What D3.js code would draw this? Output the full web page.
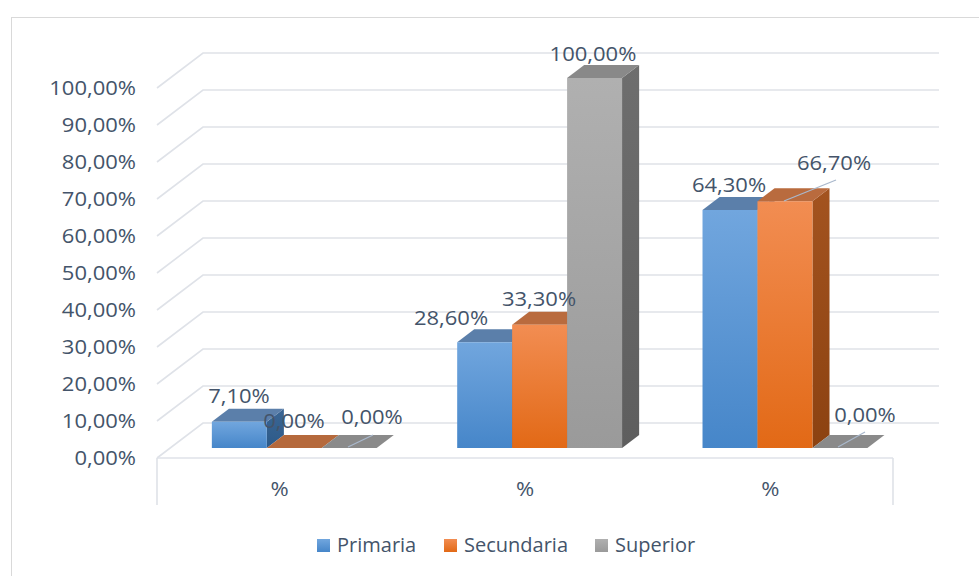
<!DOCTYPE html>
<html>
<head>
<meta charset="utf-8">
<script src="https://cdn.jsdelivr.net/npm/d3@7"></script>
<style>
  html, body { margin: 0; padding: 0; background: #ffffff; }
  svg { display: block; }
  text { font-family: "Open Sans", "Noto Sans", sans-serif; fill: #44546a; }
</style>
</head>
<body>
<svg id="chart" width="979" height="576"></svg>
<script>
// Chart data
const categories = ["%", "% ", "%  "];
const categoryLabels = ["%", "%", "%"];
const seriesNames = ["Primaria", "Secundaria", "Superior"];
const primaria = [7.1, 28.6, 64.3];
const secundaria = [0, 33.3, 66.7];
const superior = [0, 100, 0];
const yTicks = [0, 10, 20, 30, 40, 50, 60, 70, 80, 90, 100];

const seriesValues = [primaria, secundaria, superior];

const svg = d3.select("#chart");
const W = 979, H = 576;

// 3D layout: front floor edge, depth offsets
const floorLeft = 157, floorRight = 893;
const DX = 46, DY = 35;          // full depth offset of the back wall
const zFront = 10 / 35, zBack = 23 / 35; // depth span of the bars

const y = d3.scaleLinear().domain([0, 100]).range([458, 88]);
const x0 = d3.scaleBand().domain(categories).range([floorLeft, floorRight]);
const bw = x0.bandwidth();
const x1 = d3.scaleBand().domain(seriesNames).range([bw * 0.17, bw * 0.842]);

const proj = (px, v, z) => [px + z * DX, y(v) - z * DY];

const fmt = v => d3.format(".2f")(v).replace(".", ",") + "%";
const TEXT_SIZE = "20px", STRETCH = 1.1;

// place a text label at (tx, ty) with a slight horizontal stretch
function label(g, tx, ty, str, anchor, dy) {
  return g.append("text")
    .attr("transform", `translate(${tx},${ty}) scale(${STRETCH},1)`)
    .attr("text-anchor", anchor)
    .attr("dy", dy || null)
    .style("font-size", TEXT_SIZE)
    .text(str);
}

// outer chart frame
svg.append("rect")
  .attr("x", 11.5).attr("y", 17.5)
  .attr("width", W + 20).attr("height", H + 20)
  .attr("fill", "#ffffff").attr("stroke", "#d9d9d9").attr("stroke-width", 1);

// gradients
const defs = svg.append("defs");
function vGrad(id, top, bottom) {
  const g = defs.append("linearGradient").attr("id", id)
    .attr("x1", 0).attr("y1", 0).attr("x2", 0).attr("y2", 1);
  g.append("stop").attr("offset", "0%").attr("stop-color", top);
  g.append("stop").attr("offset", "100%").attr("stop-color", bottom);
}
const palette = [
  { front: ["#71a6de", "#4686c9"], top: "#5b7faa", side: ["#3b6694", "#2c5a89"], flat: "#5b7faa" },
  { front: ["#f28d52", "#e26916"], top: "#b96b3e", side: ["#a3531f", "#8c4211"], flat: "#b5693c" },
  { front: ["#b0b0b0", "#9a9a9a"], top: "#898989", side: ["#6e6e6e", "#5e5e5e"], flat: "#8a8a8a" }
];
palette.forEach((p, i) => {
  vGrad("front" + i, p.front[0], p.front[1]);
  vGrad("side" + i, p.side[0], p.side[1]);
});

// walls: side diagonals + back gridlines
const grid = svg.append("g").attr("stroke", "#dfe2e8").attr("stroke-width", 1.6).attr("fill", "none");
yTicks.forEach(v => {
  const a = proj(floorLeft, v, 0), b = proj(floorLeft, v, 1), c = proj(floorRight, v, 1);
  grid.append("path").attr("d", `M${a[0]},${a[1]}L${b[0]},${b[1]}L${c[0]},${c[1]}`);
});
// floor front edge and category axis box
grid.append("path").attr("d", `M${floorLeft},${y(0)}L${floorRight},${y(0)}`);
grid.append("path").attr("d", `M${floorLeft},${y(0)}L${floorLeft},${y(0) + 47}`);
grid.append("path").attr("d", `M${floorRight},${y(0)}L${floorRight},${y(0) + 47}`);

// value axis labels
const yAxisG = svg.append("g");
yTicks.forEach(d => label(yAxisG, 136, y(d), fmt(d), "end", "0.35em"));

// category labels
const xAxisG = svg.append("g");
categories.forEach((d, i) => label(xAxisG, x0(d) + bw / 2, 489, categoryLabels[i], "middle", "0.35em"));

// bars
const bars = svg.append("g");
const pts = arr => arr.map(p => p.join(",")).join(" ");
categories.forEach((cat, ci) => {
  seriesNames.forEach((s, si) => {
    const v = seriesValues[si][ci];
    const xl = x0(cat) + x1(s);
    const xr = xl + x1.bandwidth();
    const p = palette[si];
    const fl0 = proj(xl, 0, zFront), fr0 = proj(xr, 0, zFront);
    const flT = proj(xl, v, zFront), frT = proj(xr, v, zFront);
    const blT = proj(xl, v, zBack), brT = proj(xr, v, zBack);
    const br0 = proj(xr, 0, zBack);
    if (v > 0) {
      bars.append("polygon").attr("points", pts([frT, brT, br0, fr0]))
        .attr("fill", `url(#side${si})`);
      bars.append("polygon").attr("points", pts([flT, frT, brT, blT]))
        .attr("fill", p.top);
      bars.append("polygon").attr("points", pts([flT, frT, fr0, fl0]))
        .attr("fill", `url(#front${si})`);
    } else {
      bars.append("polygon").attr("points", pts([flT, frT, brT, blT]))
        .attr("fill", p.flat);
    }
  });
});

// data labels (text center x, baseline y) with optional leader lines
const labelPos = [
  [[239, 403, null], [451, 325, null], [729, 192, null]],
  [[294, 428, null], [539, 306, null], [834, 170, [[784, 201], [836, 180]]]],
  [[372, 424, [[348, 447], [373, 435]]], [593, 61, null], [865, 422, [[838, 447], [865, 432]]]]
];
const labels = svg.append("g");
seriesNames.forEach((s, si) => {
  categories.forEach((cat, ci) => {
    const [lx, ly, leader] = labelPos[si][ci];
    if (leader) {
      labels.append("line")
        .attr("x1", leader[0][0]).attr("y1", leader[0][1])
        .attr("x2", leader[1][0]).attr("y2", leader[1][1])
        .attr("stroke", "#a9b8cc").attr("stroke-width", 1.3);
    }
    label(labels, lx, ly, fmt(seriesValues[si][ci]), "middle");
  });
});

// legend
const legendX = [317, 444, 595];
const legend = svg.append("g");
seriesNames.forEach((s, si) => {
  legend.append("rect")
    .attr("x", legendX[si]).attr("y", 539)
    .attr("width", 13).attr("height", 13)
    .attr("fill", `url(#front${si})`);
  legend.append("text")
    .attr("x", legendX[si] + 20).attr("y", 552)
    .style("font-size", "20px")
    .text(s);
});
</script>
</body>
</html>
